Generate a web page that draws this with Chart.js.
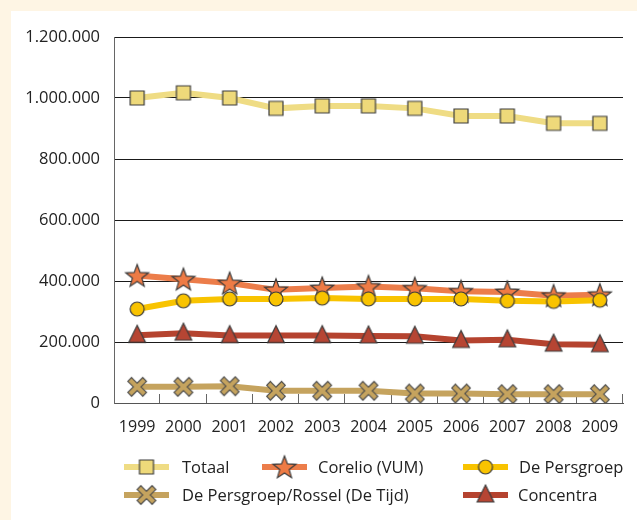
<!DOCTYPE html>
<html>
<head>
<meta charset="utf-8">
<script src="https://cdn.jsdelivr.net/npm/chart.js@4/dist/chart.umd.min.js"></script>
<style>
  html, body { margin: 0; padding: 0; background: #fef5e4; }
  #panel { position: absolute; left: 11px; top: 11px; width: 626px; height: 509px; background: #fff; }
</style>
</head>
<body>
<div id="panel"><canvas id="chart"></canvas></div>
<script>
const years = ['1999', '2000', '2001', '2002', '2003', '2004', '2005', '2006', '2007', '2008', '2009']
const totaal = [1000000, 1017000, 1000000, 966000, 974000, 974000, 966000, 941000, 941000, 917000, 917000]
const corelio = [418000, 406000, 393000, 371000, 377000, 382000, 376000, 366000, 364000, 352000, 355000]
const persgroep = [308000, 335000, 341000, 341000, 344000, 341000, 341000, 341000, 335000, 333000, 337000]
const rossel = [53000, 53000, 55000, 40000, 40000, 40000, 31000, 31000, 29000, 29000, 29000]
const concentra = [222000, 229000, 221000, 221000, 221000, 220000, 219000, 205000, 207000, 193000, 191000]
const yTicks = [0, 200000, 400000, 600000, 800000, 1000000, 1200000]

const FONT = '"Open Sans", "Noto Sans", sans-serif'
const TEXT = '#222'

// marker images, shared by the lines and the legend
function marker(kind, fill) {
  const s = 32
  const cv = document.createElement('canvas')
  cv.width = s
  cv.height = s
  const ctx = cv.getContext('2d')
  ctx.translate(s / 2, s / 2)
  ctx.fillStyle = fill
  ctx.strokeStyle = '#3c3c3c'
  ctx.lineWidth = 1.2
  ctx.beginPath()
  if (kind === 'square') {
    ctx.rect(-7, -7, 14, 14)
  } else if (kind === 'circle') {
    ctx.arc(0, 0, 7, 0, Math.PI * 2)
  } else if (kind === 'triangle') {
    ctx.moveTo(0, -10)
    ctx.lineTo(8.3, 7)
    ctx.lineTo(-8.3, 7)
    ctx.closePath()
  } else if (kind === 'star') {
    for (let i = 0; i < 10; i++) {
      const r = i % 2 ? 5 : 12
      const a = -Math.PI / 2 + (i * Math.PI) / 5
      ctx.lineTo(Math.cos(a) * r, Math.sin(a) * r + 1)
    }
    ctx.closePath()
  }
  if (kind === 'cross') {
    ctx.lineCap = 'square'
    ctx.strokeStyle = '#4a4a4a'
    ctx.lineWidth = 6.4
    ctx.moveTo(-5.6, -5.6); ctx.lineTo(5.6, 5.6)
    ctx.moveTo(5.6, -5.6); ctx.lineTo(-5.6, 5.6)
    ctx.stroke()
    ctx.beginPath()
    ctx.strokeStyle = fill
    ctx.lineWidth = 4.2
    ctx.moveTo(-5.6, -5.6); ctx.lineTo(5.6, 5.6)
    ctx.moveTo(5.6, -5.6); ctx.lineTo(-5.6, 5.6)
    ctx.stroke()
  } else {
    ctx.fill()
    ctx.stroke()
  }
  return cv
}

const series = [
  { label: 'Totaal', data: totaal, color: '#efdc84', mk: marker('square', '#eed97a') },
  { label: 'De Persgroep', data: persgroep, color: '#f8c300', mk: marker('circle', '#f9c300') },
  { label: 'Corelio (VUM)', data: corelio, color: '#ec7d4a', mk: marker('star', '#ee7b45') },
  { label: 'Concentra', data: concentra, color: '#b5432f', mk: marker('triangle', '#b64533') },
  { label: 'De Persgroep/Rossel (De Tijd)', data: rossel, color: '#c5a35e', mk: marker('cross', '#c5a35e') },
]

// legend slots [series label, line start x, row y, text x]
const legendSlots = [
  ['Totaal', 113, 456, 171],
  ['Corelio (VUM)', 251, 456, 307],
  ['De Persgroep', 452, 456, 508],
  ['De Persgroep/Rossel (De Tijd)', 113, 484, 171],
  ['Concentra', 452, 484, 507],
]

const upTicks = {
  id: 'upTicks',
  beforeDatasetsDraw(chart) {
    const x = chart.scales.x
    const b = chart.chartArea.bottom
    const ctx = chart.ctx
    ctx.save()
    ctx.strokeStyle = '#666'
    ctx.lineWidth = 1
    ctx.beginPath()
    for (let i = 1; i <= years.length; i++) {
      const px = Math.round(x.getPixelForValue(i - 0.5)) - 0.5
      ctx.moveTo(px, b)
      ctx.lineTo(px, b - 9)
    }
    ctx.stroke()
    ctx.restore()
  },
}

const legendPlugin = {
  id: 'ownLegend',
  afterDraw(chart) {
    const ctx = chart.ctx
    ctx.save()
    ctx.font = '16.5px ' + FONT
    ctx.fillStyle = TEXT
    ctx.textBaseline = 'middle'
    legendSlots.forEach(([label, x0, y, tx]) => {
      const s = series.find((d) => d.label === label)
      ctx.strokeStyle = s.color
      ctx.lineWidth = 6
      ctx.beginPath()
      ctx.moveTo(x0, y)
      ctx.lineTo(x0 + 45, y)
      ctx.stroke()
      ctx.drawImage(s.mk, x0 + 22.5 - s.mk.width / 2, y - s.mk.height / 2)
      ctx.fillText(label, tx, y + 1)
    })
    ctx.restore()
  },
}

new Chart('chart', {
  type: 'line',
  data: {
    labels: years,
    datasets: series.map((s) => ({
      label: s.label,
      data: s.data,
      borderColor: s.color,
      backgroundColor: s.color,
      borderWidth: 6,
      tension: 0,
      fill: false,
      pointStyle: s.mk,
      pointRadius: 8,
      pointHoverRadius: 8,
    })),
  },
  options: {
    responsive: true,
    maintainAspectRatio: false,
    animation: false,
    layout: { padding: { top: 26, right: 1.5, bottom: 77, left: 0 } },
    plugins: {
      legend: { display: false },
      tooltip: { enabled: false },
    },
    scales: {
      x: {
        offset: true,
        grid: { display: true, drawOnChartArea: false, drawTicks: false, offset: true },
        border: { color: '#555', width: 1 },
        ticks: { color: TEXT, font: { family: FONT, size: 16 }, padding: 15, maxRotation: 0 },
        afterFit: (scale) => { scale.height = 40 },
      },
      y: {
        min: 0,
        max: 1200000,
        afterBuildTicks: (scale) => { scale.ticks = yTicks.map((v) => ({ value: v })) },
        grid: { color: '#1a1a1a', lineWidth: 1, drawTicks: false },
        border: { color: '#666', width: 1 },
        ticks: {
          color: TEXT,
          font: { family: FONT, size: 16.5 },
          padding: 14,
          callback: (v) => v.toLocaleString('de-DE'),
        },
        afterFit: (scale) => { scale.width = 103 },
      },
    },
  },
  plugins: [upTicks, legendPlugin],
})
</script>
</body>
</html>
